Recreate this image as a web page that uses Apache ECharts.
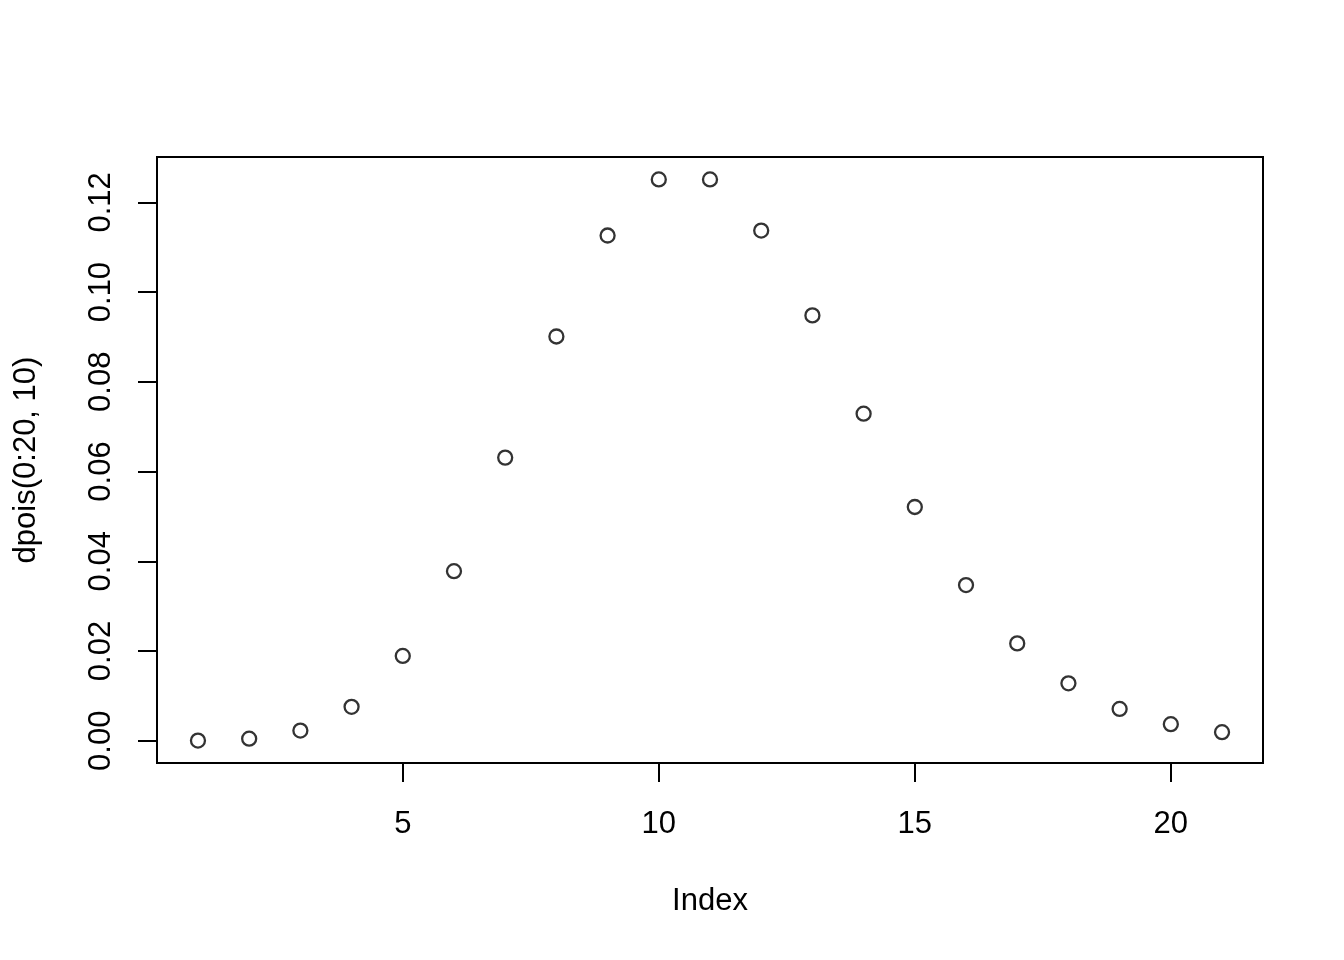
<!DOCTYPE html>
<html>
<head>
<meta charset="utf-8">
<script src="https://cdn.jsdelivr.net/npm/echarts@6/dist/echarts.min.js"></script>
<style>html,body{margin:0;padding:0;background:#fff}#c{width:1344px;height:960px}</style>
</head>
<body>
<div id="c"></div>
<script>
const indexValues = [1,2,3,4,5,6,7,8,9,10,11,12,13,14,15,16,17,18,19,20,21];
const densityValues = [0.0000454,0.000454,0.00227,0.00757,0.0189,0.0378,0.0631,0.0901,0.1126,0.1251,0.1251,0.1137,0.0948,0.0729,0.0521,0.0347,0.0217,0.0128,0.0071,0.0037,0.0019];
const xTicks = [5,10,15,20];
const yTicks = [0,0.02,0.04,0.06,0.08,0.10,0.12];

const FONT = '"Liberation Sans", Arial, Helvetica, sans-serif';
const FS = 31;
const chart = echarts.init(document.getElementById('c'), null, {renderer:'canvas'});
chart.setOption({
  animation: false,
  backgroundColor: '#fff',
  grid: {left:157, top:157, width:1106, height:606, show:true, borderColor:'#000', borderWidth:2, backgroundColor:'transparent'},
  xAxis: {
    type:'value', min:0.2, max:21.8,
    name:'Index', nameLocation:'middle', nameGap:123,
    nameTextStyle:{color:'#000', fontFamily:FONT, fontSize:FS},
    axisLine:{show:false, onZero:false},
    axisTick:{show:true, inside:false, length:19, lineStyle:{color:'#000', width:2}, customValues:xTicks},
    axisLabel:{color:'#000', fontFamily:FONT, fontSize:FS, margin:46, customValues:xTicks},
    splitLine:{show:false}
  },
  yAxis: {
    type:'value', min:-0.00496, max:0.1301,
    name:'dpois(0:20, 10)', nameLocation:'middle', nameGap:115, nameRotate:90,
    nameTextStyle:{color:'#000', fontFamily:FONT, fontSize:FS},
    axisLine:{show:false, onZero:false},
    axisTick:{show:true, inside:false, length:19, lineStyle:{color:'#000', width:2}, customValues:yTicks},
    axisLabel:{color:'#000', fontFamily:FONT, fontSize:FS, margin:40, rotate:90, customValues:yTicks,
      formatter: v => v.toFixed(2)},
    splitLine:{show:false}
  },
  series: [{
    type:'scatter',
    data: indexValues.map((x,i)=>[x, densityValues[i]]),
    symbol:'circle', symbolSize:14,
    itemStyle:{color:'rgba(0,0,0,0)', borderColor:'#000', borderWidth:2.3},
    emphasis:{disabled:true}
  }]
});
</script>
</body>
</html>
